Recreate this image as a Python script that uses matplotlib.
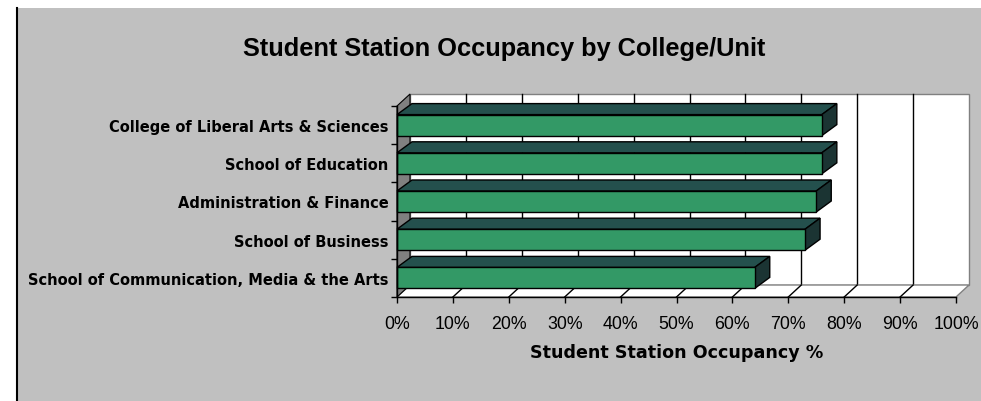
import matplotlib.pyplot as plt
from matplotlib.patches import Polygon, Rectangle
from matplotlib.lines import Line2D

units = [
    "School of Communication, Media & the Arts",
    "School of Business",
    "Administration & Finance",
    "School of Education",
    "College of Liberal Arts & Sciences",
]
occupancy = [64, 73, 75, 76, 76]
ticks = list(range(0, 101, 10))

W, H = 981, 402
fig = plt.figure(figsize=(W / 100, H / 100), dpi=100)
fig.patch.set_facecolor("white")

# grey chart area with a dark left edge
fig.add_artist(Rectangle((17 / W, 0), 1 - 17 / W, (H - 9) / H, transform=fig.transFigure,
                         facecolor="#c0c0c0", edgecolor="none", zorder=0))
fig.add_artist(Line2D([16.5 / W, 16.5 / W], [0, (H - 9) / H], transform=fig.transFigure,
                      color="black", lw=1.5, zorder=1))

ax_left, ax_right, ax_top, ax_bot = 397, 956, 107, 298
ax = fig.add_axes([ax_left / W, (H - ax_bot) / H, (ax_right - ax_left) / W, (ax_bot - ax_top) / H])
ax.patch.set_visible(False)
ax.set_xlim(0, 100)
ax.set_ylim(-0.5, len(units) - 0.5)

# pixel depth of the 3d box turned into data units
px_x = (ax_right - ax_left) / 100
px_y = (ax_bot - ax_top) / len(units)
wdx, wdy = 13 / px_x, 12 / px_y
bdx, bdy = 15 / px_x, 11 / px_y
y0, y1 = -0.5, len(units) - 0.5

# back wall with gridlines
ax.add_patch(Rectangle((wdx, y0 + wdy), 100, y1 - y0, facecolor="white",
                       edgecolor="#808080", lw=1, clip_on=False, zorder=1))
for t in ticks[1:-1]:
    ax.plot([t + wdx, t + wdx], [y0 + wdy, y1 + wdy], color="black", lw=1,
            clip_on=False, zorder=1.5)

# floor
ax.add_patch(Polygon([(0, y0), (100, y0), (100 + wdx, y0 + wdy), (wdx, y0 + wdy)],
                     closed=True, facecolor="white", edgecolor="#808080", lw=1,
                     clip_on=False, zorder=2))
for t in ticks[1:-1]:
    ax.plot([t, t + wdx], [y0, y0 + wdy], color="black", lw=1, clip_on=False, zorder=2.1)

# side wall
ax.add_patch(Polygon([(0, y0), (wdx, y0 + wdy), (wdx, y1 + wdy), (0, y1)], closed=True,
                     facecolor="#808080", edgecolor="black", lw=0.8, clip_on=False, zorder=2.2))

# 3d bars
h = 0.275
for i, v in enumerate(occupancy):
    front = Rectangle((0, i - h), v, 2 * h, facecolor="#339966", edgecolor="black",
                      lw=1, clip_on=False, zorder=3)
    top = Polygon([(0, i + h), (v, i + h), (v + bdx, i + h + bdy), (bdx, i + h + bdy)],
                  closed=True, facecolor="#24504d", edgecolor="black", lw=1,
                  clip_on=False, zorder=3)
    side = Polygon([(v, i - h), (v + bdx, i - h + bdy), (v + bdx, i + h + bdy), (v, i + h)],
                   closed=True, facecolor="#1b3433", edgecolor="black", lw=1,
                   clip_on=False, zorder=3)
    for p in (top, side, front):
        ax.add_patch(p)

for s in ("top", "right"):
    ax.spines[s].set_visible(False)
for s in ("left", "bottom"):
    ax.spines[s].set_color("black")
    ax.spines[s].set_linewidth(1)
    ax.spines[s].set_zorder(4)

ax.set_xticks(ticks)
ax.set_xticklabels([f"{t}%" for t in ticks], fontfamily="Liberation Sans", fontsize=12.8)
ax.tick_params(axis="x", direction="out", length=4, width=1, pad=9)

ax.set_yticks(range(len(units)))
ax.set_yticklabels(units, fontfamily="DejaVu Sans", fontweight="bold", fontsize=10.5)
ax.set_yticks([k - 0.5 for k in range(len(units) + 1)], minor=True)
ax.tick_params(axis="y", which="major", length=0, pad=6)
ax.tick_params(axis="y", which="minor", direction="out", length=4, width=1)

ax.set_xlabel("Student Station Occupancy %", fontfamily="DejaVu Sans", fontweight="bold",
              fontsize=12.6, labelpad=8)

fig.text(504 / W, 1 - 49 / H, "Student Station Occupancy by College/Unit",
         ha="center", va="center", fontfamily="Liberation Sans", fontweight="bold",
         fontsize=18.3)

fig.savefig("out.png", dpi=100)
